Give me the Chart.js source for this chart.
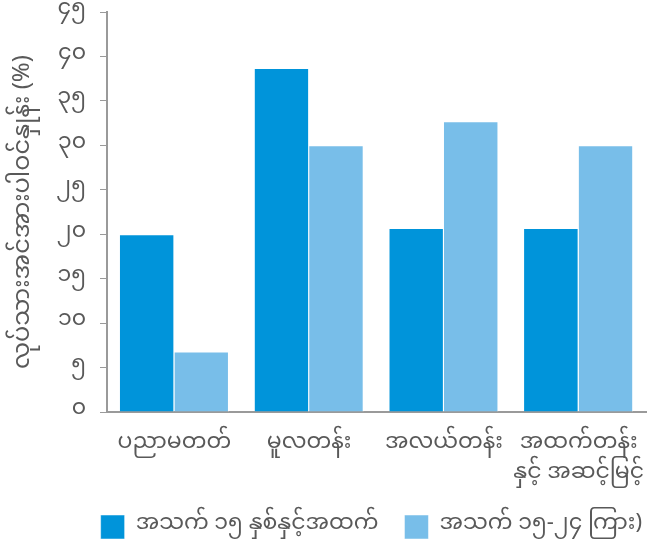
<!DOCTYPE html>
<html>
<head>
<meta charset="utf-8">
<script src="https://cdn.jsdelivr.net/npm/chart.js@4/dist/chart.umd.min.js"></script>
<style>
  html, body { margin: 0; padding: 0; background: #fff; }
  #wrap { width: 647px; height: 541px; }
</style>
</head>
<body>
<div id="wrap"><canvas id="chart"></canvas></div>
<script>
// Labour force participation by education level
const categories = ['ပညာမတတ်', 'မူလတန်း', 'အလယ်တန်း', ['အထက်တန်း', 'နှင့် အဆင့်မြင့်']];
const age15plus = [20.0, 38.7, 20.7, 20.7];
const age15to24 = [6.8, 30.0, 32.7, 30.0];
const tickLabels = ['၀', '၅', '၁၀', '၁၅', '၂၀', '၂၅', '၃၀', '၃၅', '၄၀', '၄၅'];
const seriesNames = ['အသက် ၁၅ နှစ်နှင့်အထက်', 'အသက် ၁၅-၂၄ ကြား)'];

const fontFamily = "'Noto Sans Myanmar', 'Padauk', 'Myanmar Text', 'Noto Sans', sans-serif";
const textColor = '#595959';
const axisColor = '#9a9a9a';

// push the legend row towards the right edge
const legendShift = {
  id: 'legendShift',
  afterLayout(chart) {
    chart.legend.left += 22;
    chart.legend.right += 22;
  }
};

new Chart(document.getElementById('chart'), {
  type: 'bar',
  data: {
    labels: categories,
    datasets: [
      {
        label: seriesNames[0],
        data: age15plus,
        backgroundColor: '#0094da',
        borderColor: '#ffffff',
        borderWidth: { top: 1, left: 0, right: 1, bottom: 0 },
        borderSkipped: 'bottom'
      },
      {
        label: seriesNames[1],
        data: age15to24,
        backgroundColor: '#78bee9',
        borderColor: '#ffffff',
        borderWidth: { top: 1, left: 0, right: 1, bottom: 0 },
        borderSkipped: 'bottom'
      }
    ]
  },
  plugins: [legendShift],
  options: {
    responsive: true,
    maintainAspectRatio: false,
    animation: false,
    // legend sits a little lower than the box model allows
    layout: { padding: { top: 0, right: 1, left: 0, bottom: -8 } },
    datasets: {
      bar: { categoryPercentage: 0.81, barPercentage: 1.0 }
    },
    plugins: {
      legend: {
        position: 'bottom',
        align: 'end',
        labels: {
          color: textColor,
          font: { family: fontFamily, size: 22 },
          boxWidth: 24,
          boxHeight: 24,
          padding: 26
        }
      },
      tooltip: { enabled: false }
    },
    scales: {
      x: {
        grid: { display: false, drawTicks: false },
        border: { color: axisColor, width: 2 },
        ticks: {
          color: textColor,
          font: { family: fontFamily, size: 22, lineHeight: 1.35 },
          padding: 19,
          maxRotation: 0
        },
        afterFit: (scale) => {
          scale.paddingLeft = 0;
          scale.paddingRight = 0;
          scale.height = 77;
        }
      },
      y: {
        min: 0,
        max: 45,
        grid: { drawOnChartArea: false, drawTicks: true, tickLength: 7, color: axisColor },
        border: { color: axisColor, width: 2 },
        ticks: {
          stepSize: 5,
          color: textColor,
          font: { family: fontFamily, size: 22 },
          padding: 14,
          callback: (value) => tickLabels[value / 5]
        },
        title: {
          display: true,
          text: 'လုပ်သားအင်အားပါဝင်နှုန်း (%)',
          color: textColor,
          font: { family: fontFamily, size: 24 },
          padding: { top: 12, bottom: 2 }
        },
        afterFit: (scale) => {
          scale.width = 107;
          scale.paddingTop = 12;
          scale.paddingBottom = 0;
        }
      }
    }
  }
});
</script>
</body>
</html>
